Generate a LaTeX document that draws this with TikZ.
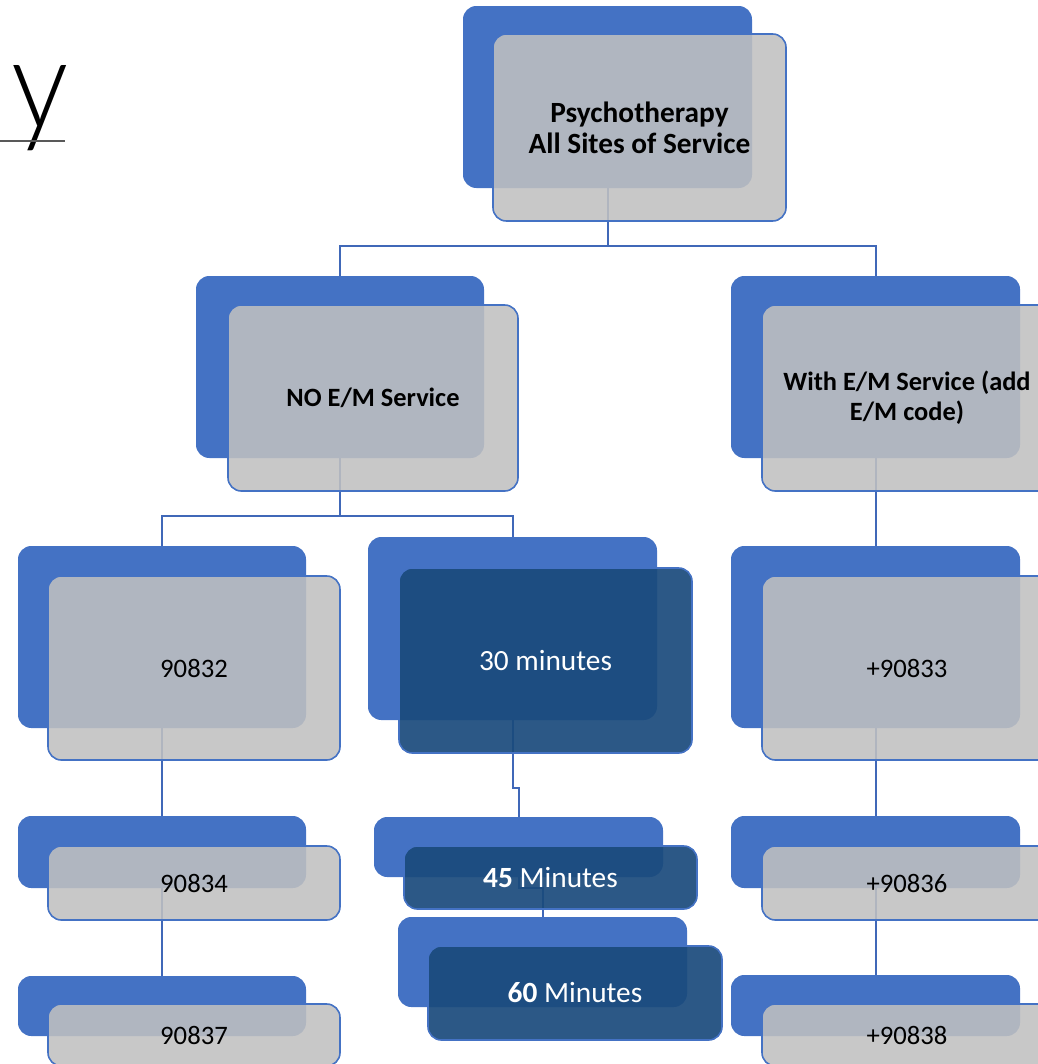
\documentclass[tikz,border=0pt]{standalone}
\usepackage{fontspec}
\setmainfont{Carlito}
\newfontfamily\thinface{Lato Light}
\usetikzlibrary{fit}
\definecolor{accent}{HTML}{4472C4}
\definecolor{panel}{HTML}{C0C0C0}
\definecolor{deep}{HTML}{1A4A7C}
\definecolor{linkc}{HTML}{4068B8}
\definecolor{rule}{HTML}{595959}
\pgfdeclarelayer{backs}
\pgfdeclarelayer{links}
\pgfsetlayers{backs,links,main}

\begin{document}
\begin{tikzpicture}[x=0.75pt,y=-0.75pt,
  backbox/.style={fill=accent, draw=none, rounded corners=10pt, inner sep=0pt},
  frontbox/.style={fill=panel, fill opacity=0.88, draw=accent,
    line width=1.2pt, rounded corners=10pt, inner sep=0pt},
  darkbox/.style={frontbox, fill=deep, fill opacity=0.92},
  lbl/.style={align=center, inner sep=0pt, font=\fontsize{20}{23}\selectfont},
  darklbl/.style={lbl, text=white, font=\fontsize{22}{24}\selectfont},
  headlbl/.style={lbl, font=\fontsize{22}{23.5}\selectfont\bfseries},
  branchlbl/.style={lbl, font=\fontsize{19.8}{22.5}\selectfont\bfseries},
  link/.style={draw=linkc, line width=1.5pt}]

\useasboundingbox (0,0) rectangle (1038,1064);

% title fragment
\node[anchor=base, inner sep=0pt, xscale=0.9, font=\fontsize{95}{97}\thinface] (ttl) at (40,128) {y};
\draw[rule, line width=1pt] (0,141) -- (65,141);

% back panels
\begin{pgfonlayer}{backs}
\node[backbox, fit={(463,6)(752,188)}] (topB) {};
\node[backbox, fit={(196,276)(484,458)}] (noemB) {};
\node[backbox, fit={(731,276)(1020,458)}] (withemB) {};
\node[backbox, fit={(18,546)(306,728)}] (aB) {};
\node[backbox, fit={(368,537)(657,720)}] (mB) {};
\node[backbox, fit={(731,546)(1020,728)}] (pB) {};
\node[backbox, fit={(18,816)(306,888)}] (bB) {};
\node[backbox, fit={(374,817)(663,877)}] (nB) {};
\node[backbox, fit={(731,816)(1020,888)}] (qB) {};
\node[backbox, fit={(18,976)(306,1036)}] (cB) {};
\node[backbox, fit={(398,917)(687,1007)}] (oB) {};
\node[backbox, fit={(731,975)(1020,1036)}] (rB) {};
\end{pgfonlayer}

% connectors
\begin{pgfonlayer}{links}
\coordinate (j1) at (607.5,246);
\coordinate (j2) at (340,516);
\draw[link] (topB.south) -- (j1) -| (noemB.north);
\draw[link] (j1) -| (withemB.north);
\draw[link] (noemB.south) -- (j2) -| (aB.north);
\draw[link] (j2) -| (mB.north);
\draw[link] (withemB.south) -- (pB.north);
\draw[link] (aB.south) -- (bB.north);
\draw[link] (bB.south) -- (cB.north);
\draw[link] (pB.south) -- (qB.north);
\draw[link] (qB.south) -- (rB.north);
\draw[link] (mB.south) -- ++(0,68) -| (nB.north);
\draw[link] (nB.south) -- ++(0,11) -| (oB.north);
\end{pgfonlayer}

% front panels
\node[frontbox, fit={(493,34)(786,221)}] (top) {};
\node[frontbox, fit={(228,305)(518,491)}] (noem) {};
\node[frontbox, fit={(762,305)(1052,491)}] (withem) {};
\node[frontbox, fit={(48,576)(340,760)}] (a) {};
\node[darkbox, fit={(399,568)(692,753)}] (m) {};
\node[frontbox, fit={(762,576)(1052,760)}] (p) {};
\node[frontbox, fit={(48,846)(340,920)}] (b) {};
\node[darkbox, fit={(404,846)(697,909)}] (n) {};
\node[frontbox, fit={(762,846)(1052,920)}] (q) {};
\node[frontbox, fit={(48,1004)(340,1066)}] (c) {};
\node[darkbox, fit={(428,946)(722,1040)}] (o) {};
\node[frontbox, fit={(762,1004)(1052,1066)}] (r) {};

% labels
\node[headlbl] (topT) at (top.center) {Psychotherapy\\All Sites of Service};
\node[branchlbl] (noemT) at (noem.center) {NO E/M Service};
\node[branchlbl] (withemT) at (withem.center) {With E/M Service (add\\E/M code)};
\node[lbl] (aT) at (a.center) {90832};
\node[darklbl] (mT) at (m.center) {30 minutes};
\node[lbl] (pT) at (p.center) {+90833};
\node[lbl] (bT) at (b.center) {90834};
\node[darklbl] (nT) at (n.center) {\textbf{45} Minutes};
\node[lbl] (qT) at (q.center) {+90836};
\node[lbl] (cT) at (c.center) {90837};
\node[darklbl] (oT) at (o.center) {\textbf{60} Minutes};
\node[lbl] (rT) at (r.center) {+90838};
\end{tikzpicture}
\end{document}
